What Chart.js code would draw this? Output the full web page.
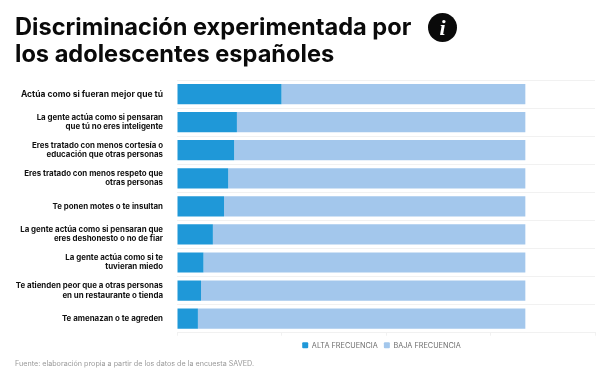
<!DOCTYPE html>
<html lang="es">
<head>
<meta charset="utf-8">
<title>Discriminación experimentada</title>
<script src="https://cdn.jsdelivr.net/npm/chart.js@4"></script>
<style>
    html, body { margin: 0; padding: 0; background: #fff; }
    #wrap { position: relative; width: 600px; height: 376px; overflow: hidden; font-family: Inter, sans-serif; }
    #chart { position: absolute; left: 0; top: 0; }
    #title { position: absolute; left: 15px; top: 13px; margin: 0; font-size: 23.6px; line-height: 27px; font-weight: 700; color: #0a0a0a; white-space: nowrap; }
    #info { position: absolute; left: 428px; top: 12.5px; width: 29px; height: 29px; border-radius: 50%; background: #0a0a0a; color: #fff; font: italic 700 22px/29px "Liberation Serif", serif; text-align: center; }
    #source { position: absolute; left: 15px; top: 358px; font-size: 7.2px; line-height: 12px; color: #999; white-space: nowrap; }
</style>
</head>
<body>
<div id="wrap">
    <canvas id="chart" width="600" height="376"></canvas>
    <h1 id="title">Discriminación experimentada por<br>los adolescentes españoles</h1>
    <div id="info">i</div>
    <div id="source">Fuente: elaboración propia a partir de los datos de la encuesta SAVED.</div>
</div>
<script>
    const CATEGORIES = [
        'Actúa como si fueran mejor que tú',
        ['La gente actúa como si pensaran', 'que tú no eres inteligente'],
        ['Eres tratado con menos cortesía o', 'educación que otras personas'],
        ['Eres tratado con menos respeto que', 'otras personas'],
        'Te ponen motes o te insultan',
        ['La gente actúa como si pensaran que', 'eres deshonesto o no de fiar'],
        ['La gente actúa como si te', 'tuvieran miedo'],
        ['Te atienden peor que a otras personas', 'en un restaurante o tienda'],
        'Te amenazan o te agreden'
    ];
    const ALTA = [30, 17.2, 16.4, 14.7, 13.5, 10.3, 7.6, 6.9, 6];
    const BAJA = [70, 82.8, 83.6, 85.3, 86.5, 89.7, 92.4, 93.1, 94];

    const GRID = '#f1f1f1';

    new Chart(document.getElementById('chart').getContext('2d'), {
        type: 'bar',
        data: {
            labels: CATEGORIES,
            datasets: [
                { label: 'ALTA FRECUENCIA', data: ALTA, backgroundColor: '#1f98d8', barPercentage: 0.72, categoryPercentage: 1 },
                { label: 'BAJA FRECUENCIA', data: BAJA, backgroundColor: '#a3c7ec', barPercentage: 0.72, categoryPercentage: 1 }
            ]
        },
        options: {
            indexAxis: 'y',
            responsive: false,
            animation: false,
            layout: { padding: { top: 80, right: 5, bottom: 17 } },
            plugins: {
                title: { display: false },
                tooltip: { enabled: false },
                legend: {
                    position: 'bottom',
                    labels: {
                        font: { family: 'Inter', size: 7.3 },
                        color: '#6e6e6e',
                        boxWidth: 6,
                        boxHeight: 6,
                        padding: 6,
                        useBorderRadius: true,
                        borderRadius: 1
                    }
                }
            },
            scales: {
                x: {
                    stacked: true,
                    min: 0,
                    max: 120,
                    ticks: { display: false, stepSize: 30 },
                    grid: { drawOnChartArea: false, color: GRID, tickLength: 3 },
                    border: { color: GRID }
                },
                y: {
                    stacked: true,
                    afterFit(scale) { scale.width = 177; },
                    ticks: {
                        // first label is a bit larger in the original
                        font: (ctx) => ({ family: 'Inter', size: ctx.index === 0 ? 8.5 : 7.9, weight: '700', lineHeight: 1.15 }),
                        color: '#111',
                        padding: 14
                    },
                    grid: { color: GRID, drawTicks: false },
                    border: { display: false }
                }
            }
        },
        plugins: [{
            // legend sits centred under the plot, not under the whole canvas
            id: 'legendShift',
            afterLayout(c) { c.legend.left = 168; }
        }]
    });
</script>
</body>
</html>
